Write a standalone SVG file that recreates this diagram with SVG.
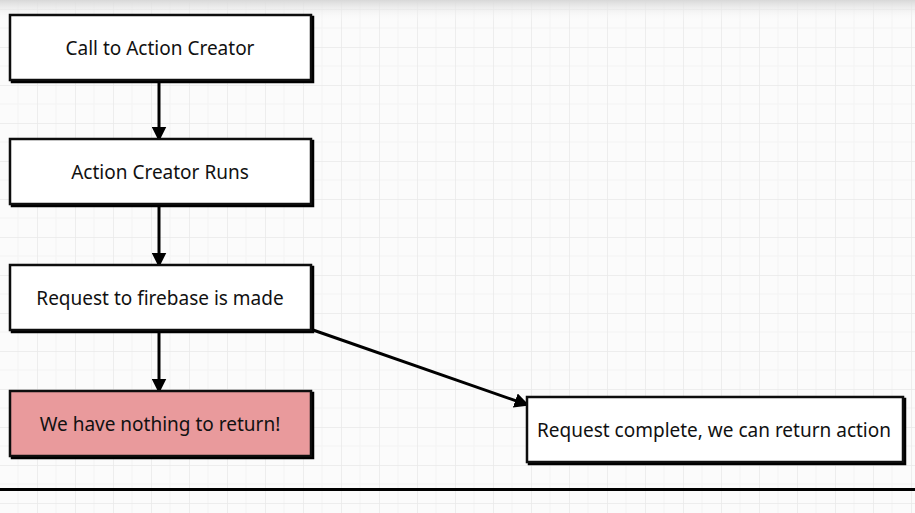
<svg xmlns="http://www.w3.org/2000/svg" width="915" height="513" viewBox="0 0 915 513">
<defs>
<pattern id="grid" width="38" height="38" patternUnits="userSpaceOnUse" x="-1" y="9">
<path d="M19 0V38M0 19H38" stroke="#f3f3f3" stroke-width="1" fill="none"/>
<path d="M0 0V38M0 0H38" stroke="#e9e9e9" stroke-width="1.5" fill="none"/>
</pattern>
<linearGradient id="top" x1="0" y1="0" x2="0" y2="1">
<stop offset="0" stop-color="#d8d8d8"/>
<stop offset="1" stop-color="#ffffff" stop-opacity="0"/>
</linearGradient>
<marker id="ah" viewBox="0 0 10 10" refX="9" refY="5" markerWidth="5" markerHeight="5" orient="auto" markerUnits="strokeWidth">
<path d="M0 0L10 5L0 10Z" fill="#000"/>
</marker>
<filter id="sh" x="-5%" y="-5%" width="110%" height="120%">
<feOffset dx="2" dy="2" in="SourceAlpha" result="o"/>
<feMerge><feMergeNode in="o"/><feMergeNode in="SourceGraphic"/></feMerge>
</filter>
</defs>
<style>
.box{stroke:#111;stroke-width:2.5;fill:#fff;filter:url(#sh)}
.red{fill:#e99a9c}
.lbl{font-family:"Noto Sans",sans-serif;font-size:19px;fill:#111;text-anchor:middle;dominant-baseline:central}
.con{stroke:#000;stroke-width:3;fill:none;marker-end:url(#ah)}
</style>
<rect width="915" height="513" fill="#fbfbfb"/>
<rect width="915" height="513" fill="url(#grid)"/>
<rect width="915" height="22" fill="url(#top)"/>
<g id="connectors">
<line class="con" x1="159" y1="81" x2="159" y2="140"/>
<line class="con" x1="159" y1="205" x2="159" y2="266"/>
<line class="con" x1="159" y1="331" x2="159" y2="392"/>
<line class="con" x1="313" y1="330" x2="528" y2="405"/>
</g>
<g id="n1"><rect class="box" x="10" y="15" width="301" height="65"/><text class="lbl" x="160" y="48">Call to Action Creator</text></g>
<g id="n2"><rect class="box" x="10" y="139" width="301" height="65"/><text class="lbl" x="160" y="172">Action Creator Runs</text></g>
<g id="n3"><rect class="box" x="10" y="265" width="301" height="65"/><text class="lbl" x="160" y="298">Request to firebase is made</text></g>
<g id="n4"><rect class="box red" x="10" y="391" width="301" height="65"/><text class="lbl" x="160" y="424">We have nothing to return!</text></g>
<g id="n5"><rect class="box" x="527" y="397" width="376" height="65"/><text class="lbl" x="714" y="430">Request complete, we can return action</text></g>
<line x1="0" y1="489.5" x2="915" y2="489.5" stroke="#000" stroke-width="3"/>
</svg>
